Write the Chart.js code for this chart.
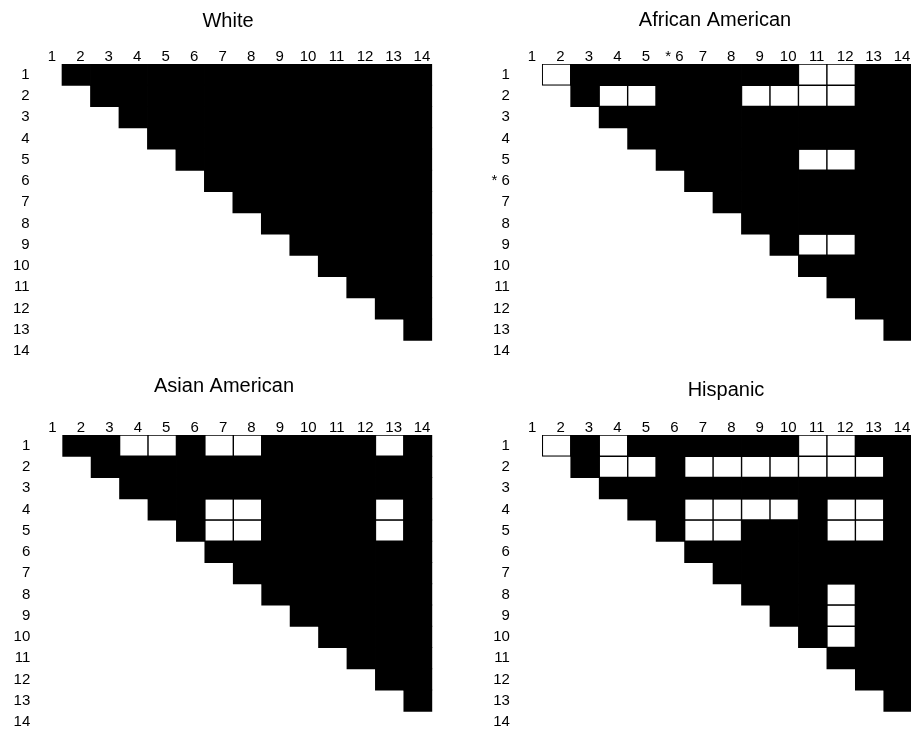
<!DOCTYPE html>
<html><head><meta charset="utf-8">
<script src="https://cdn.jsdelivr.net/npm/chart.js@4.4.1/dist/chart.umd.min.js"></script>
<style>
html,body{margin:0;padding:0;background:#fff;overflow:hidden;width:911px;height:736px;}
#wrap{position:relative;width:911px;height:736px;overflow:hidden;background:#fff;}
canvas{position:absolute;}
</style></head><body><div id="wrap">
<canvas id="c0"></canvas><canvas id="c1"></canvas><canvas id="c2"></canvas><canvas id="c3"></canvas>
</div>
<script>
// ---- data ----
const columnLabels = ['1','2','3','4','5','6','7','8','9','10','11','12','13','14'];
const rowLabels = ['1','2','3','4','5','6','7','8','9','10','11','12','13','14'];
const africanAmericanColumnLabels = ['1','2','3','4','5','* 6','7','8','9','10','11','12','13','14'];
const africanAmericanRowLabels = ['1','2','3','4','5','* 6','7','8','9','10','11','12','13','14'];
const panelTitles = ['White','African American','Asian American','Hispanic'];
// pairs [row, column] drawn as white (open) boxes; every other pair above the diagonal is black
const whiteOpenPairs = [];
const africanAmericanOpenPairs = [[1,2],[1,11],[1,12],[2,4],[2,5],[2,9],[2,10],[2,11],[2,12],[5,11],[5,12],[9,11],[9,12]];
const asianAmericanOpenPairs = [[1,4],[1,5],[1,7],[1,8],[1,13],[4,7],[4,8],[4,13],[5,7],[5,8],[5,13]];
const hispanicOpenPairs = [[1,2],[1,4],[1,11],[1,12],[2,4],[2,5],[2,7],[2,8],[2,9],[2,10],[2,11],[2,12],[2,13],[4,7],[4,8],[4,9],[4,10],[4,12],[4,13],[5,7],[5,8],[5,12],[5,13],[8,12],[9,12],[10,12]];

// ---- layout (page pixels) ----
const layouts = [
  {left:0,   top:0,   width:520, titleCenter:228, titlePad:9,  plotLeft:33.6,  plotRight:432.2, plotTop:64,  row13Bottom:349},
  {left:455, top:0,   width:520, titleCenter:715, titlePad:8,  plotLeft:513.8, plotRight:912.3, plotTop:64,  row13Bottom:349},
  {left:0,   top:360, width:520, titleCenter:224, titlePad:14, plotLeft:34.3,  plotRight:432.3, plotTop:435, row13Bottom:719.3},
  {left:455, top:360, width:520, titleCenter:726, titlePad:18, plotLeft:513.9, plotRight:912.3, plotTop:435, row13Bottom:719.3}
];
const FONT = '"Liberation Sans", Arial, Helvetica, sans-serif';
const LABEL_ROOM = 30;

function buildPanel(idx, title, colLabels, rLabels, openPairs, lay) {
  const canvas = document.getElementById('c' + idx);
  const rowH = (lay.row13Bottom - lay.plotTop) / 13;
  const chartBottom = lay.plotTop + rLabels.length * rowH;
  const H = Math.ceil(chartBottom - lay.top) + 2;
  canvas.width = lay.width; canvas.height = H;
  canvas.style.left = lay.left + 'px'; canvas.style.top = lay.top + 'px';
  const relLeft = lay.plotLeft - lay.left, relRight = lay.plotRight - lay.left;
  const padLeft = relLeft - LABEL_ROOM;
  const yAxisW = LABEL_ROOM;
  // invisible spacer on the right so the full-width title lands where it sits in the figure
  const spacerW = Math.max(0, 2 * (lay.titleCenter - lay.left) - padLeft - relRight);
  const padRight = lay.width - relRight - spacerW;
  const titleBoxH = lay.titlePad + 24;
  const xAxisH = lay.plotTop - lay.top - titleBoxH;
  const padBottom = H - (chartBottom - lay.top);
  const isOpen = (r, c) => openPairs.some(p => p[0] === r && p[1] === c);

  const datasets = [];
  for (let r = 1; r < rLabels.length; r++) {
    datasets.push({
      data: colLabels.map((_, ci) => (ci + 1 > r) ? [r - 0.5, r + 0.5] : null),
      backgroundColor: colLabels.map((_, ci) => isOpen(r, ci + 1) ? '#ffffff' : '#000000'),
      borderColor: '#000000',
      borderWidth: colLabels.map((_, ci) => isOpen(r, ci + 1) ? 1.1 : 0),
      borderSkipped: false,
      grouped: false,
      categoryPercentage: 1,
      barPercentage: 1,
      inflateAmount: 0.4
    });
  }

  new Chart(canvas, {
    type: 'bar',
    data: { labels: colLabels, datasets },
    options: {
      responsive: false,
      animation: false,
      devicePixelRatio: 1,
      layout: { padding: { left: padLeft, right: padRight, top: 0, bottom: padBottom } },
      plugins: {
        legend: { display: false },
        tooltip: { enabled: false },
        title: {
          display: true, text: title, color: '#000',
          font: { family: FONT, size: 20, weight: 'normal', lineHeight: 1.2 },
          padding: { top: lay.titlePad, bottom: 0 }
        }
      },
      scales: {
        x: {
          type: 'category', position: 'top', offset: true,
          grid: { display: false, drawTicks: false }, border: { display: false },
          ticks: { color: '#000', font: { family: FONT, size: 15, lineHeight: 1 }, padding: 0, labelOffset: 4, maxRotation: 0, autoSkip: false },
          afterFit: s => { s.height = xAxisH; }
        },
        y: {
          type: 'linear', reverse: true, min: 0.5, max: rLabels.length + 0.5,
          grid: { display: false, drawTicks: false }, border: { display: false },
          afterBuildTicks: s => { s.ticks = rLabels.map((_, i) => ({ value: i + 1 })); },
          ticks: { color: '#000', font: { family: FONT, size: 15, lineHeight: 1 }, padding: 4, autoSkip: false,
                   callback: (v, i) => rLabels[i] },
          afterFit: s => { s.width = yAxisW; }
        },
        spacer: {
          type: 'linear', position: 'right', display: true,
          grid: { display: false, drawTicks: false }, border: { display: false },
          ticks: { display: false },
          afterFit: s => { s.width = spacerW; }
        }
      }
    }
  });
}

buildPanel(0, panelTitles[0], columnLabels, rowLabels, whiteOpenPairs, layouts[0]);
buildPanel(1, panelTitles[1], africanAmericanColumnLabels, africanAmericanRowLabels, africanAmericanOpenPairs, layouts[1]);
buildPanel(2, panelTitles[2], columnLabels, rowLabels, asianAmericanOpenPairs, layouts[2]);
buildPanel(3, panelTitles[3], columnLabels, rowLabels, hispanicOpenPairs, layouts[3]);
</script></body></html>
